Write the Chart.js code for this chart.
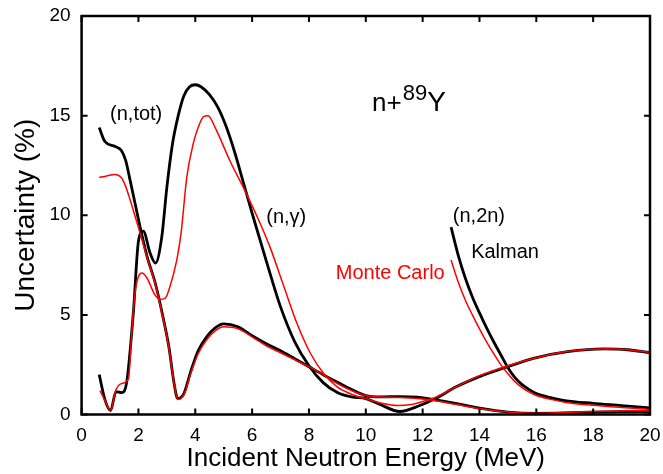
<!DOCTYPE html>
<html>
<head>
<meta charset="utf-8">
<title>n+89Y uncertainty</title>
<script src="https://cdn.jsdelivr.net/npm/chart.js@4.4.1/dist/chart.umd.min.js"></script>
<style>
  html, body { margin: 0; padding: 0; background: #fff; }
  #wrap { width: 663px; height: 474px; position: relative; }
</style>
</head>
<body>
<div id="wrap"><canvas id="chart"></canvas></div>
<script>
// tick labels
const xTicks = [0, 2, 4, 6, 8, 10, 12, 14, 16, 18, 20];
const yTicks = [0, 5, 10, 15, 20];

// (n,tot)
const totEnergy = [0.62, 0.82, 1.18, 1.4, 1.55, 1.7, 1.88, 2.06, 2.3, 2.6, 2.84, 3.07, 3.25, 3.38, 3.6, 3.85, 4.1, 4.4, 4.7, 5.0, 5.5, 6.0, 6.5, 7.0, 7.5, 8.0, 8.5, 9.0, 9.5, 10.0, 10.5, 11.2, 11.8, 12.4, 13.2, 14.0, 15.0, 16.0, 17.0, 18.0, 19.0, 20.0];
const totKalman = [14.4, 13.7, 13.45, 13.25, 12.75, 11.8, 10.6, 9.4, 7.95, 6.55, 5.05, 3.4, 1.6, 0.8, 1.05, 2.2, 3.2, 3.9, 4.35, 4.55, 4.4, 3.95, 3.55, 3.2, 2.8, 2.4, 2.0, 1.62, 1.25, 0.95, 0.88, 0.9, 0.87, 0.75, 0.55, 0.32, 0.12, 0.06, 0.08, 0.12, 0.14, 0.15];
const totMonteCarlo = [11.9, 11.95, 12.05, 11.88, 11.45, 10.8, 9.95, 9.1, 7.9, 6.5, 5.0, 3.35, 1.6, 0.75, 1.0, 2.1, 3.05, 3.75, 4.2, 4.4, 4.3, 3.9, 3.45, 3.1, 2.75, 2.4, 2.0, 1.55, 1.2, 0.95, 0.88, 0.85, 0.8, 0.7, 0.5, 0.3, 0.12, 0.06, 0.1, 0.15, 0.18, 0.2];

// (n,gamma)
const gamEnergyK = [0.62, 0.82, 1.02, 1.21, 1.41, 1.59, 1.82, 2.0, 2.17, 2.41, 2.6, 2.82, 3.0, 3.2, 3.4, 3.6, 3.8, 4.0, 4.2, 4.5, 4.8, 5.1, 5.4, 5.69, 6.0, 6.5, 7.0, 7.5, 8.0, 8.5, 9.0, 9.5, 10.0, 10.5, 11.2, 11.9, 12.4, 13.2, 14.0, 15.0, 15.9, 17.1, 18.4, 19.2, 20.0];
const gamKalman = [2.0, 0.75, 0.2, 1.15, 1.1, 1.65, 5.1, 8.7, 9.2, 8.1, 7.6, 8.9, 11.4, 13.6, 15.0, 16.0, 16.45, 16.55, 16.45, 16.05, 15.4, 14.4, 13.1, 11.65, 10.1, 7.7, 5.4, 3.65, 2.45, 1.6, 1.1, 0.88, 0.8, 0.5, 0.15, 0.45, 0.76, 1.4, 1.9, 2.4, 2.82, 3.15, 3.29, 3.25, 3.1];
const gamEnergyMC = [0.65, 0.82, 1.02, 1.2, 1.4, 1.65, 1.76, 1.88, 2.12, 2.3, 2.58, 2.76, 2.94, 3.11, 3.35, 3.5, 3.7, 3.93, 4.1, 4.29, 4.45, 4.7, 5.23, 5.69, 6.28, 6.63, 7.1, 7.57, 8.04, 8.51, 8.98, 9.57, 10.15, 10.6, 11.1, 11.6, 12.0, 12.5, 13.2, 14.0, 15.0, 16.0, 17.0, 18.0, 18.5, 19.2, 20.0];
const gamMonteCarlo = [1.2, 0.7, 0.2, 1.2, 1.55, 1.8, 4.0, 6.1, 7.1, 6.85, 6.0, 5.78, 5.83, 6.42, 7.76, 9.1, 11.9, 13.6, 14.4, 14.95, 15.0, 14.4, 12.7, 11.4, 9.6, 8.4, 6.5, 4.6, 3.1, 2.07, 1.4, 0.98, 0.73, 0.55, 0.45, 0.5, 0.65, 0.9, 1.4, 1.95, 2.45, 2.85, 3.15, 3.28, 3.3, 3.25, 3.12];

// (n,2n)
const n2nEnergy = [13.0, 13.25, 13.5, 13.75, 14.0, 14.25, 14.5, 14.75, 15.0, 15.25, 15.5, 15.75, 16.0, 16.5, 17.0, 18.0, 19.0, 20.0];
const n2nKalman = [9.4, 8.0, 6.85, 5.9, 5.1, 4.35, 3.65, 3.0, 2.35, 1.85, 1.5, 1.25, 1.05, 0.85, 0.7, 0.56, 0.45, 0.33];
const n2nMonteCarlo = [7.75, 6.65, 5.75, 5.0, 4.3, 3.65, 3.05, 2.5, 2.05, 1.65, 1.35, 1.12, 0.95, 0.76, 0.62, 0.46, 0.35, 0.25];

const FONT = "'Liberation Sans', Arial, Helvetica, sans-serif";

function pts(xs, ys) {
  return xs.map((x, i) => ({ x: x, y: ys[i] }));
}

// red is drawn over black, so it gets the lower order
function kalman(xs, ys) {
  return { data: pts(xs, ys), order: 2, borderColor: '#000000', borderWidth: 2.8, pointRadius: 0, cubicInterpolationMode: 'monotone', fill: false };
}
function monteCarlo(xs, ys) {
  return { data: pts(xs, ys), order: 1, borderColor: '#ff0000', borderWidth: 1.5, pointRadius: 0, cubicInterpolationMode: 'monotone', fill: false };
}

// labels placed in data units
const notes = [
  { text: '(n,tot)', x: 1.92, y: 15.08, color: '#000' },
  { text: '(n,\u03b3)', x: 7.2, y: 9.9, color: '#000' },
  { text: '(n,2n)', x: 13.98, y: 9.93, color: '#000' },
  { text: 'Kalman', x: 14.9, y: 8.13, color: '#000' },
  { text: 'Monte Carlo', x: 10.86, y: 7.1, color: '#ff0000' }
];

// frame, inward ticks and text labels
const framePlugin = {
  id: 'frame',
  afterDatasetsDraw(chart) {
    const { ctx, chartArea: a, scales: { x, y } } = chart;
    ctx.save();
    ctx.strokeStyle = '#000';
    ctx.lineWidth = 2;
    ctx.beginPath();
    xTicks.forEach(v => {
      const px = x.getPixelForValue(v);
      ctx.moveTo(px, a.bottom); ctx.lineTo(px, a.bottom - 6);
      ctx.moveTo(px, a.top); ctx.lineTo(px, a.top + 6);
    });
    yTicks.forEach(v => {
      const py = y.getPixelForValue(v);
      ctx.moveTo(a.left, py); ctx.lineTo(a.left + 6, py);
      ctx.moveTo(a.right, py); ctx.lineTo(a.right - 6, py);
    });
    ctx.stroke();
    ctx.lineWidth = 2.5;
    ctx.strokeRect(a.left, a.top, a.right - a.left, a.bottom - a.top);

    ctx.textAlign = 'center';
    ctx.textBaseline = 'middle';
    ctx.font = '20px ' + FONT;
    notes.forEach(n => {
      ctx.fillStyle = n.color;
      ctx.fillText(n.text, x.getPixelForValue(n.x), y.getPixelForValue(n.y));
    });

    // n+89Y title
    ctx.fillStyle = '#000';
    ctx.textAlign = 'left';
    ctx.textBaseline = 'alphabetic';
    let tx = x.getPixelForValue(10.22);
    const ty = y.getPixelForValue(15.25);
    ctx.font = '26px ' + FONT;
    ctx.fillText('n+', tx, ty);
    tx += ctx.measureText('n+').width + 1;
    ctx.font = '22px ' + FONT;
    ctx.fillText('89', tx, ty - 11);
    tx += ctx.measureText('89').width;
    ctx.font = '28px ' + FONT;
    ctx.fillText('Y', tx, ty);
    ctx.restore();
  }
};

function noPadding(scale) {
  scale.paddingTop = 0;
  scale.paddingBottom = 0;
  scale.paddingLeft = 0;
  scale.paddingRight = 0;
}

new Chart(document.getElementById('chart'), {
  type: 'line',
  data: {
    datasets: [
      kalman(totEnergy, totKalman),
      kalman(gamEnergyK, gamKalman),
      kalman(n2nEnergy, n2nKalman),
      monteCarlo(totEnergy, totMonteCarlo),
      monteCarlo(gamEnergyMC, gamMonteCarlo),
      monteCarlo(n2nEnergy, n2nMonteCarlo)
    ]
  },
  options: {
    responsive: true,
    maintainAspectRatio: false,
    animation: false,
    layout: { padding: { left: 0, right: 13, top: 16, bottom: 0 } },
    plugins: { legend: { display: false }, tooltip: { enabled: false } },
    scales: {
      x: {
        type: 'linear',
        min: 0, max: 20,
        grid: { display: false, drawTicks: false },
        border: { display: false },
        afterBuildTicks(scale) { scale.ticks = xTicks.map(v => ({ value: v })); },
        afterFit(scale) { scale.height = 59.5; noPadding(scale); },
        ticks: { color: '#000', padding: 10, maxRotation: 0, font: { family: FONT, size: 19 } },
        title: { display: true, text: 'Incident Neutron Energy (MeV)', color: '#000', padding: { top: 0, bottom: 0 }, font: { family: FONT, size: 26 } }
      },
      y: {
        type: 'linear',
        min: 0, max: 20,
        grid: { display: false, drawTicks: false },
        border: { display: false },
        afterBuildTicks(scale) { scale.ticks = yTicks.map(v => ({ value: v })); },
        afterFit(scale) { scale.width = 81.6; noPadding(scale); },
        ticks: { color: '#000', padding: 11, font: { family: FONT, size: 19 } },
        title: { display: true, text: 'Uncertainty (%)', color: '#000', padding: { top: 9, bottom: 0 }, font: { family: FONT, size: 28 } }
      }
    }
  },
  plugins: [framePlugin]
});
</script>
</body>
</html>
